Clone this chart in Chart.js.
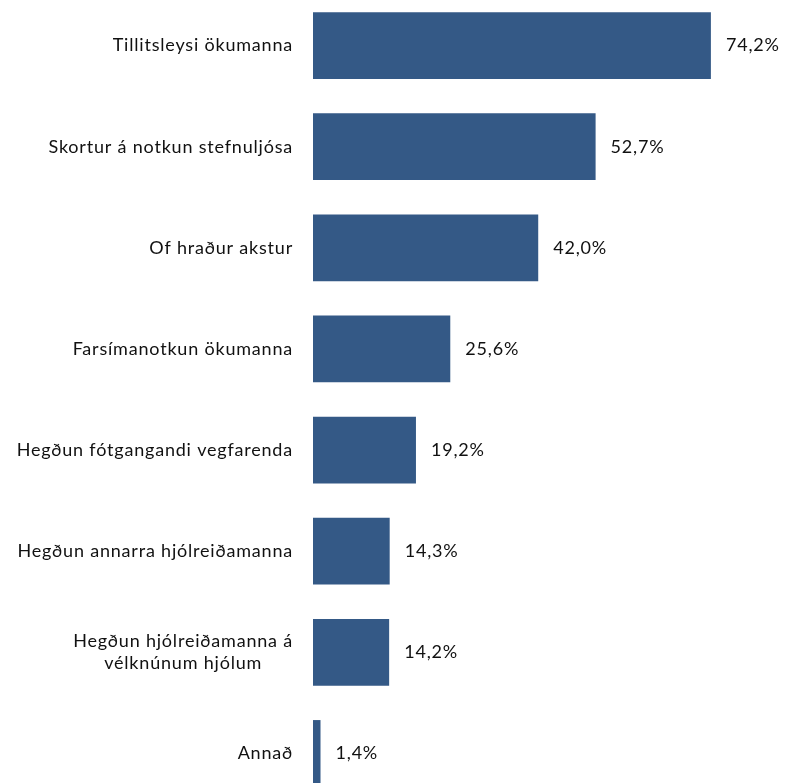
<!DOCTYPE html>
<html>
<head>
<meta charset="utf-8">
<script src="https://cdn.jsdelivr.net/npm/chart.js@4.4.1/dist/chart.umd.min.js"></script>
<style>
    html, body { margin: 0; padding: 0; background: #fff; overflow: hidden; }
    #wrap { position: absolute; left: 0; top: -5px; width: 791px; height: 809px; }
</style>
</head>
<body>
<div id="wrap"><canvas id="chart"></canvas></div>
<script>
// gögn
const categories = [
    ['Tillitsleysi ökumanna'],
    ['Skortur á notkun stefnuljósa'],
    ['Of hraður akstur'],
    ['Farsímanotkun ökumanna'],
    ['Hegðun fótgangandi vegfarenda'],
    ['Hegðun annarra hjólreiðamanna'],
    ['Hegðun hjólreiðamanna á', 'vélknúnum hjólum'],
    ['Annað']
];
const values = [74.2, 52.7, 42.0, 25.6, 19.2, 14.3, 14.2, 1.4];

const FONT = '18px Lato, "Liberation Sans", sans-serif';
const SPACING = '0.8px';
const TEXT_COLOR = '#111';

function fmt(v) {
    return v.toFixed(1).replace('.', ',') + '%';
}

// flokkaheiti til vinstri, miðjuð innbyrðis en hægrijöfnuð við ás
const categoryLabels = {
    id: 'categoryLabels',
    afterDraw(chart) {
        const ctx = chart.ctx;
        const y = chart.scales.y;
        const right = chart.chartArea.left - 20;
        const lineH = 22;
        ctx.save();
        ctx.font = FONT;
        ctx.letterSpacing = SPACING;
        ctx.fillStyle = TEXT_COLOR;
        ctx.textAlign = 'left';
        ctx.textBaseline = 'middle';
        categories.forEach((lines, i) => {
            const cy = y.getPixelForValue(i);
            const widths = lines.map(l => ctx.measureText(l).width);
            const w = Math.max(...widths);
            const y0 = cy - (lines.length - 1) * lineH / 2;
            lines.forEach((l, k) => {
                const x = right - w + (w - widths[k]) / 2;
                ctx.fillText(l, x, y0 + k * lineH);
            });
        });
        ctx.restore();
    }
};

// gildi aftan við súlur
const valueLabels = {
    id: 'valueLabels',
    afterDatasetsDraw(chart) {
        const ctx = chart.ctx;
        const meta = chart.getDatasetMeta(0);
        ctx.save();
        ctx.font = FONT;
        ctx.letterSpacing = SPACING;
        ctx.fillStyle = TEXT_COLOR;
        ctx.textAlign = 'left';
        ctx.textBaseline = 'middle';
        meta.data.forEach((bar, i) => {
            ctx.fillText(fmt(values[i]), bar.x + 15, bar.y);
        });
        ctx.restore();
    }
};

const ctx = document.getElementById('chart').getContext('2d');
new Chart(ctx, {
    type: 'bar',
    data: {
        labels: categories.map(c => c.join(' ')),
        datasets: [{
            data: values,
            backgroundColor: '#345986',
            borderWidth: 0,
            barPercentage: 0.66,
            categoryPercentage: 1
        }]
    },
    options: {
        indexAxis: 'y',
        responsive: true,
        maintainAspectRatio: false,
        animation: false,
        layout: { padding: { left: 313, right: 49, top: 0, bottom: 0 } },
        plugins: {
            legend: { display: false },
            tooltip: { enabled: false }
        },
        scales: {
            x: { display: false, min: 0, max: 80 },
            y: { display: false }
        }
    },
    plugins: [categoryLabels, valueLabels]
});
</script>
</body>
</html>
